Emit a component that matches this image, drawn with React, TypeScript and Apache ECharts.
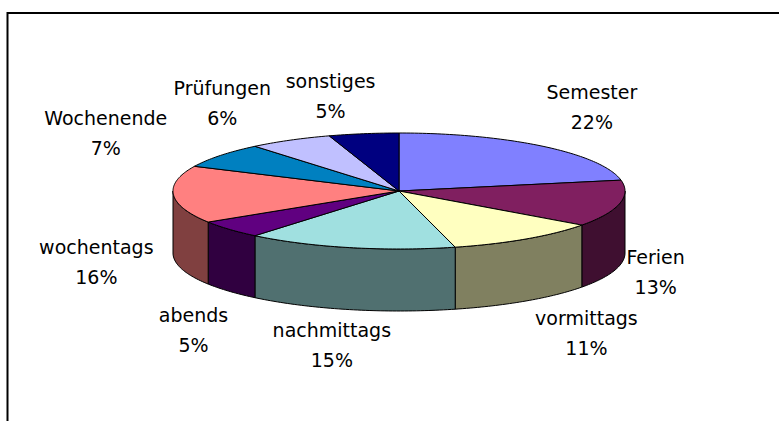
import React, { useEffect, useRef } from "react";
import * as echarts from "echarts";

// ---- data ----
const categories = [
  "Semester",
  "Ferien",
  "vormittags",
  "nachmittags",
  "abends",
  "wochentags",
  "Wochenende",
  "Prüfungen",
  "sonstiges",
];
const values = [22, 13, 11, 15, 5, 16, 7, 6, 5];

// ---- styles ----
const topColors = [
  "#8080FF",
  "#801F60",
  "#FFFFC0",
  "#A0E0E0",
  "#600080",
  "#FF8080",
  "#0080C0",
  "#C0C0FF",
  "#000080",
];
const sideColors = [
  "#404080",
  "#3F0F30",
  "#808060",
  "#507070",
  "#300040",
  "#804040",
  "#004060",
  "#606080",
  "#000040",
];

// ---- layout ----
const CX = 399;
const CY = 191;
const RX = 226;
const RY = 58;
const DEPTH = 62;
const LABEL_RX = 1.2;
const LABEL_RY = 1.6;
const labelNudge = [
  [20, -12],
  [-8, -1],
  [35, 3],
  [-8, 1],
  [-2, 16],
  [-32, 3],
  [-79, -1],
  [-46, -7],
  [-26, -3],
];
const FONT = "DejaVu Sans";

const total = values.reduce((a, b) => a + b, 0);

function sliceAngles(i: number): [number, number] {
  let s = 0;
  for (let j = 0; j < i; j++) s += values[j];
  return [(s / total) * Math.PI * 2, ((s + values[i]) / total) * Math.PI * 2];
}

function pt(a: number, dy = 0): number[] {
  return [CX + RX * Math.sin(a), CY - RY * Math.cos(a) + dy];
}

function arc(a0: number, a1: number, dy = 0): number[][] {
  const n = Math.max(2, Math.ceil(Math.abs(a1 - a0) / (Math.PI / 180)));
  const pts: number[][] = [];
  for (let k = 0; k <= n; k++) {
    pts.push(pt(a0 + ((a1 - a0) * k) / n, dy));
  }
  return pts;
}

export default function App() {
  const ref = useRef<HTMLDivElement>(null);

  useEffect(() => {
    if (!ref.current) return;
    const chart = echarts.init(ref.current, undefined, { renderer: "svg" });

    const data = values.map((v, i) => [v, i]);

    const option: any = {
      animation: false,
      backgroundColor: "#ffffff",
      graphic: [
        {
          type: "rect",
          z: 0,
          shape: { x: 7.5, y: 13, width: 820, height: 500 },
          style: { fill: "none", stroke: "#000", lineWidth: 2 },
        },
      ],
      series: [
        {
          type: "custom",
          coordinateSystem: "none",
          z: 1,
          data,
          renderItem: (params: any) => {
            const i = params.dataIndex;
            const [a0, a1] = sliceAngles(i);
            const s0 = Math.max(a0, Math.PI / 2);
            const s1 = Math.min(a1, (Math.PI * 3) / 2);
            if (s0 >= s1) return { type: "group", children: [] };
            const top = arc(s0, s1);
            const bottom = arc(s1, s0, DEPTH);
            return {
              type: "polygon",
              shape: { points: top.concat(bottom) },
              style: {
                fill: sideColors[i],
                stroke: "#000",
                lineWidth: 1,
                lineJoin: "round",
              },
            };
          },
        },
        {
          type: "custom",
          coordinateSystem: "none",
          z: 2,
          data,
          renderItem: (params: any) => {
            const i = params.dataIndex;
            const [a0, a1] = sliceAngles(i);
            const pts = [[CX, CY]].concat(arc(a0, a1));
            return {
              type: "polygon",
              shape: { points: pts },
              style: {
                fill: topColors[i],
                stroke: "#000",
                lineWidth: 1,
                lineJoin: "round",
              },
            };
          },
        },
        {
          type: "custom",
          coordinateSystem: "none",
          z: 3,
          data,
          renderItem: (params: any, api: any) => {
            const i = params.dataIndex;
            const [a0, a1] = sliceAngles(i);
            const mid = (a0 + a1) / 2;
            const c = Math.cos(mid);
            const x = CX + RX * LABEL_RX * Math.sin(mid) + labelNudge[i][0];
            const y =
              CY -
              RY * LABEL_RY * c +
              (c < 0 ? DEPTH : 0) +
              labelNudge[i][1];
            const pct = Math.round((api.value(0) / total) * 100);
            return {
              type: "text",
              style: {
                text: categories[i] + "\n" + pct + "%",
                x,
                y,
                align: "center",
                verticalAlign: "middle",
                fontSize: 19,
                fontFamily: FONT,
                lineHeight: 30,
                fill: "#000",
              },
            };
          },
        },
      ],
    };

    chart.setOption(option);
    return () => chart.dispose();
  }, []);

  return (
    <div
      ref={ref}
      style={{
        position: "fixed",
        left: 0,
        top: 0,
        width: 779,
        height: 421,
        background: "#fff",
      }}
    />
  );
}
